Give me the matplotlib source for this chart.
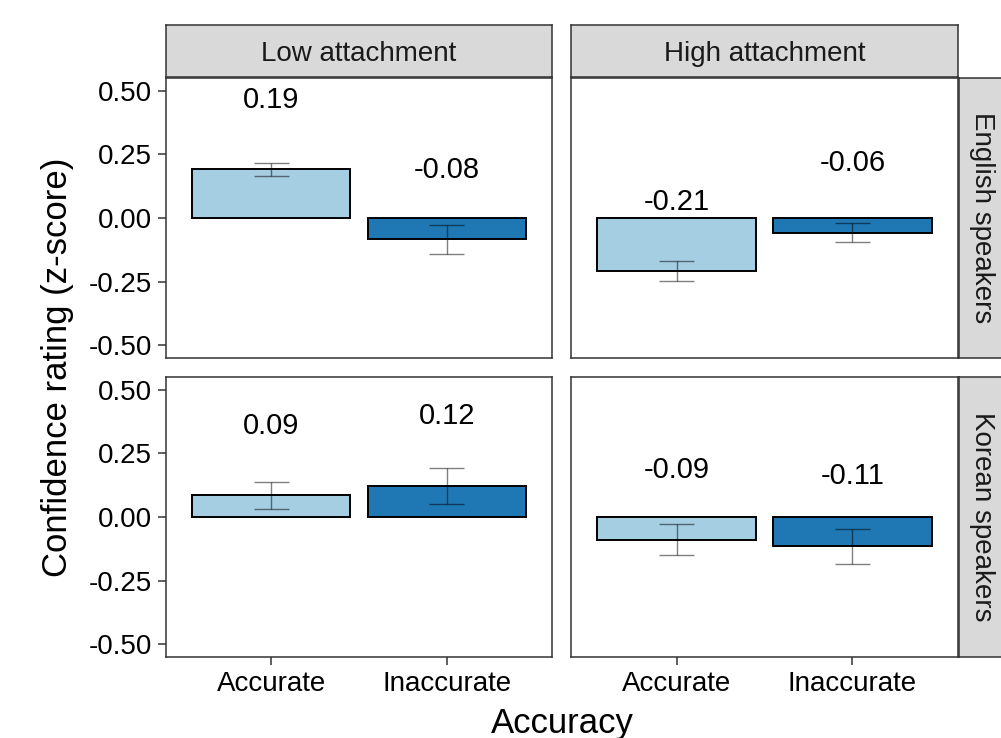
import numpy as np
import matplotlib
matplotlib.use("Agg")
import matplotlib.pyplot as plt

plt.rcParams['font.family'] = ['Liberation Sans', 'DejaVu Sans']

# data
attachment = ["Low attachment", "High attachment"]
speakers = ["English speakers", "Korean speakers"]
accuracy = ["Accurate", "Inaccurate"]

# means per panel: [speaker][attachment] -> (accurate, inaccurate)
means = [[[0.192, -0.084], [-0.210, -0.058]],
         [[0.086, 0.123], [-0.089, -0.114]]]
ci_low = [[[0.166, -0.142], [-0.247, -0.094]],
          [[0.033, 0.052], [-0.150, -0.183]]]
ci_high = [[[0.217, -0.027], [-0.169, -0.021]],
           [[0.137, 0.192], [-0.027, -0.048]]]
labels = [[["0.19", "-0.08"], ["-0.21", "-0.06"]],
          [["0.09", "0.12"], ["-0.09", "-0.11"]]]

yticks = [-0.50, -0.25, 0.00, 0.25, 0.50]
ytick_labels = ["-0.50", "-0.25", "0.00", "0.25", "0.50"]

fills = ["#a6cee3", "#1f78b4"]
frame = "#333333"

W, H = 1001, 738
fig = plt.figure(figsize=(W / 100, H / 100), dpi=100)

def px_axes(x0, y0, x1, y1):
    return fig.add_axes([x0 / W, 1 - y1 / H, (x1 - x0) / W, (y1 - y0) / H])

col_x = [(166, 552), (571, 958)]
row_y = [(78, 358), (377, 657)]

for r in range(2):
    for c in range(2):
        x0, x1 = col_x[c]
        y0, y1 = row_y[r]
        ax = px_axes(x0, y0, x1, y1)
        xs = np.arange(1, 3)
        ax.bar(xs, means[r][c], width=0.9, color=fills,
               edgecolor="black", linewidth=1.4, zorder=2)
        ax.vlines(xs, ci_low[r][c], ci_high[r][c], color="black",
                  alpha=0.5, lw=1.0, zorder=3)
        ax.hlines(ci_low[r][c], xs - 0.1, xs + 0.1, color="black",
                  alpha=0.5, lw=1.0, zorder=3)
        ax.hlines(ci_high[r][c], xs - 0.1, xs + 0.1, color="black",
                  alpha=0.5, lw=1.0, zorder=3)
        for i in range(2):
            ax.text(xs[i], means[r][c][i] + 0.285, labels[r][c][i],
                    ha="center", va="center_baseline", fontsize=21,
                    color="black")
        ax.set_xlim(0.4, 2.6)
        ax.set_ylim(-0.55, 0.55)
        for s in ax.spines.values():
            s.set_color(frame)
            s.set_linewidth(1.1)
        ax.set_yticks(yticks)
        ax.set_xticks(xs)
        ax.tick_params(colors=frame, length=5.8, width=1.1, pad=4.5,
                       labelsize=20, labelcolor="black")
        if c == 0:
            ax.set_yticklabels(ytick_labels)
        else:
            ax.tick_params(axis="y", length=0, labelleft=False)
        if r == 1:
            ax.set_xticklabels(accuracy)
        else:
            ax.tick_params(axis="x", length=0, labelbottom=False)

        # top strips
        if r == 0:
            sa = px_axes(x0, 25, x1, 77)
            sa.set_facecolor("#d9d9d9")
            sa.set_xticks([])
            sa.set_yticks([])
            for s in sa.spines.values():
                s.set_color(frame)
                s.set_linewidth(1.1)
            sa.text(0.5, 0.5, attachment[c], ha="center",
                    va="center_baseline", fontsize=20, color="#1a1a1a",
                    transform=sa.transAxes)
        # right strips
        if c == 1:
            sa = px_axes(959, y0, 1011, y1)
            sa.set_facecolor("#d9d9d9")
            sa.set_xticks([])
            sa.set_yticks([])
            for s in sa.spines.values():
                s.set_color(frame)
                s.set_linewidth(1.1)
            sa.text(0.45, 0.5, speakers[r], ha="center", va="center",
                    rotation=-90, fontsize=20, color="#1a1a1a",
                    transform=sa.transAxes)

fig.text(58 / W, 1 - 367 / H, "Confidence rating (z-score)", rotation=90,
         ha="center", va="center", fontsize=25, color="black")
fig.text(562 / W, 1 - 733 / H, "Accuracy", ha="center", va="baseline",
         fontsize=25, color="black")

fig.savefig("out.png", dpi=100)
